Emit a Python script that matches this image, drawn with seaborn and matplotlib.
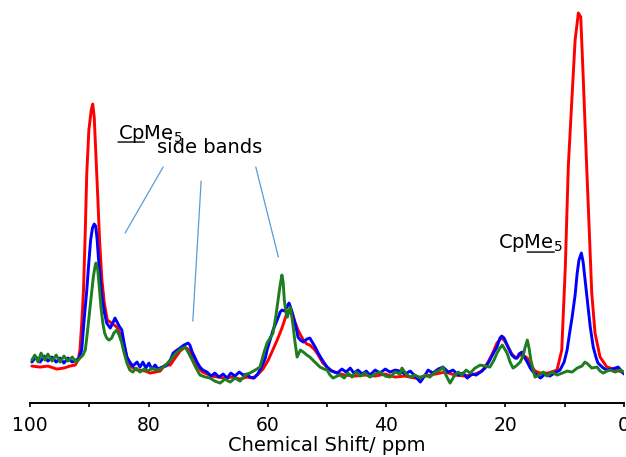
import pandas as pd
import matplotlib
matplotlib.use("Agg")
import matplotlib.pyplot as plt
import seaborn as sns

# ---------------------------------------------------------
# spectra (ppm, intensity in a.u.)
# ---------------------------------------------------------

red_ppm = [99.7, 98.3, 97.0, 95.5, 94.3, 93.3, 92.4, 91.9, 91.6, 91.3, 91.0, 90.7, 90.45, 90.1, 89.7,
           89.45, 89.2, 88.9, 88.6, 88.3, 87.9, 87.5, 87.0, 86.25, 85.4, 84.55, 83.7, 82.9, 82.0, 81.5,
           80.6, 79.8, 78.95, 78.1, 77.3, 76.4, 75.6, 74.75, 73.9, 73.2, 72.6, 71.9, 71.0, 70.2, 69.4,
           68.35, 67.2, 66.0, 64.65, 63.5, 62.5, 61.6, 60.8, 59.9, 59.3, 58.4, 57.6, 56.7, 56.2, 55.9,
           55.4, 54.9, 54.0, 53.4, 52.9, 52.2, 51.7, 51.2, 50.7, 49.5, 48.3, 47.0, 45.3, 43.6, 41.9,
           40.2, 38.55, 36.9, 35.2, 33.5, 31.8, 30.1, 28.45, 26.8, 25.1, 23.9, 22.9, 22.05, 21.4, 20.7,
           20.2, 19.5, 18.9, 18.2, 17.5, 16.8, 16.3, 15.7, 15.0, 14.1, 12.8, 11.3, 10.5, 9.9, 9.4,
           8.8, 8.25, 7.7, 7.3, 6.85, 6.3, 5.85, 5.45, 4.9, 4.05, 2.9, 1.2, 0.0]
red_int = [37, 36, 37, 34, 35, 37, 38, 43, 53, 80, 113, 173, 230, 273, 293,
           299, 286, 246, 206, 163, 123, 100, 83, 80, 76, 66, 46, 36, 33, 33,
           32, 30, 31, 32, 38, 38, 45, 52, 56, 53, 45, 37, 31, 29, 27,
           26, 25, 26, 24, 26, 25, 29, 34, 43, 51, 63, 75, 91, 94, 91,
           81, 73, 63, 59, 58, 54, 50, 45, 40, 33, 30, 28, 27, 28, 27,
           29, 26, 27, 25, 27, 29, 31, 28, 27, 29, 32, 41, 51, 60, 65,
           63, 56, 49, 45, 48, 47, 45, 38, 32, 30, 30, 33, 53, 136, 236,
           303, 363, 390, 386, 320, 236, 170, 110, 70, 46, 36, 33, 30]

blue_ppm = [99.7, 99.0, 98.3, 97.6, 97.0, 96.3, 95.6, 94.95, 94.3, 93.6, 92.9, 92.25, 91.75, 91.3, 90.9,
            90.45, 90.1, 89.8, 89.5, 89.2, 88.95, 88.7, 88.5, 88.2, 87.9, 87.5, 87.1, 86.5, 86.0, 85.7,
            85.35, 85.0, 84.55, 84.2, 83.7, 83.2, 82.7, 82.0, 81.5, 81.0, 80.5, 80.0, 79.5, 78.95, 78.45,
            77.8, 77.1, 76.4, 75.9, 75.25, 74.75, 74.1, 73.4, 73.1, 72.7, 72.2, 71.9, 71.4, 70.9, 70.2,
            69.5, 68.9, 68.2, 67.5, 66.8, 66.2, 65.5, 64.8, 64.1, 63.5, 63.0, 62.3, 61.8, 61.3, 60.9,
            60.4, 60.1, 59.6, 59.1, 58.4, 57.9, 57.6, 57.1, 56.6, 56.4, 56.1, 55.7, 55.2, 54.9, 54.5,
            54.0, 53.4, 52.9, 52.4, 52.0, 51.5, 50.8, 50.0, 49.2, 48.3, 47.5, 46.8, 46.1, 45.5, 44.8,
            44.1, 43.4, 42.8, 41.9, 41.1, 40.2, 39.4, 38.55, 37.7, 36.9, 36.0, 35.2, 34.3, 33.5, 33.0,
            32.2, 31.3, 30.5, 29.6, 28.8, 27.9, 27.1, 26.4, 25.6, 24.9, 24.2, 23.4, 22.6, 21.9, 21.4,
            20.9, 20.6, 20.2, 19.9, 19.4, 18.9, 18.35, 18.0, 17.7, 17.2, 16.8, 16.3, 15.8, 15.3, 14.6,
            14.1, 13.3, 12.5, 11.45, 10.8, 10.1, 9.6, 9.1, 8.75, 8.25, 7.9, 7.6, 7.2, 6.9, 6.7,
            6.4, 6.2, 5.7, 5.2, 4.7, 4.4, 3.5, 2.9, 2.0, 1.0, 0.3, 0.0]
blue_int = [41, 46, 41, 47, 42, 46, 41, 45, 40, 45, 41, 43, 45, 53, 83,
            113, 141, 163, 175, 179, 177, 163, 146, 125, 106, 91, 80, 75, 81, 85,
            81, 77, 73, 61, 46, 41, 37, 41, 36, 41, 35, 40, 34, 38, 34,
            36, 37, 43, 50, 53, 55, 58, 60, 58, 51, 45, 41, 36, 33, 31,
            27, 30, 26, 29, 25, 30, 27, 31, 28, 29, 26, 25, 28, 33, 38,
            45, 53, 63, 73, 83, 91, 93, 92, 98, 100, 95, 86, 75, 66, 63,
            61, 64, 65, 60, 56, 50, 43, 36, 32, 30, 34, 31, 35, 30, 33,
            29, 32, 28, 33, 30, 34, 31, 33, 32, 29, 32, 27, 21, 28, 33,
            30, 34, 36, 31, 33, 28, 30, 25, 29, 28, 31, 35, 43, 51, 56,
            65, 67, 65, 61, 54, 48, 45, 45, 49, 51, 46, 41, 35, 31, 28,
            25, 29, 27, 31, 33, 41, 53, 73, 86, 108, 130, 143, 150, 141, 130,
            113, 103, 76, 56, 45, 40, 35, 33, 34, 36, 31, 29]

green_ppm = [99.7, 99.2, 98.65, 98.15, 97.5, 97.0, 96.3, 95.6, 94.95, 94.3, 93.6, 92.9, 92.25, 91.6, 91.1,
             90.7, 90.4, 89.9, 89.35, 89.05, 88.9, 88.6, 88.3, 88.05, 87.75, 87.45, 87.1, 86.7, 86.25, 85.9,
             85.4, 85.0, 84.55, 84.2, 83.7, 83.2, 82.7, 82.15, 81.5, 80.8, 80.1, 79.5, 78.8, 78.1, 77.3,
             76.4, 75.75, 75.25, 74.6, 73.9, 73.4, 72.7, 72.05, 71.4, 70.5, 69.7, 68.9, 68.0, 67.2, 66.3,
             65.5, 64.65, 63.8, 63.0, 62.1, 61.3, 60.6, 60.1, 59.6, 59.1, 58.6, 58.25, 57.9, 57.6, 57.4,
             57.2, 56.9, 56.7, 56.2, 55.9, 55.7, 55.4, 55.05, 54.5, 54.0, 53.4, 52.9, 52.4, 51.7, 51.2,
             50.5, 50.0, 49.5, 49.0, 48.3, 47.8, 47.1, 46.5, 45.8, 45.1, 44.4, 43.6, 42.8, 41.9, 41.1,
             40.2, 39.4, 38.55, 37.7, 37.4, 36.7, 36.0, 35.2, 34.3, 33.5, 32.7, 31.8, 31.0, 30.5, 30.0,
             29.3, 28.6, 27.9, 27.3, 26.6, 25.9, 25.1, 24.2, 23.4, 22.6, 21.9, 21.4, 20.9, 20.5, 20.0,
             19.7, 19.2, 18.7, 18.2, 17.5, 17.0, 16.7, 16.3, 16.0, 15.7, 15.3, 15.0, 14.3, 13.6, 13.0,
             12.1, 11.3, 10.4, 9.6, 8.75, 7.9, 7.1, 6.6, 6.1, 5.45, 4.55, 4.05, 3.5, 2.9, 2.35,
             1.5, 0.7, 0.0]
green_int = [43, 48, 41, 50, 43, 49, 42, 48, 41, 47, 42, 46, 41, 45, 48,
             53, 68, 96, 126, 137, 140, 133, 113, 95, 80, 70, 65, 63, 65, 70,
             73, 68, 60, 51, 40, 33, 31, 35, 31, 34, 32, 35, 33, 34, 37,
             43, 48, 51, 54, 56, 51, 43, 35, 28, 26, 25, 22, 20, 24, 21,
             25, 22, 28, 30, 33, 36, 51, 60, 65, 70, 88, 103, 118, 128, 121,
             103, 90, 86, 96, 85, 76, 61, 46, 53, 51, 48, 46, 43, 39, 36,
             34, 33, 28, 25, 27, 28, 25, 30, 26, 31, 27, 30, 26, 29, 31,
             27, 26, 31, 29, 35, 29, 26, 28, 25, 28, 26, 31, 33, 36, 28,
             20, 27, 31, 28, 33, 30, 35, 38, 37, 36, 43, 50, 55, 58, 53,
             50, 41, 35, 37, 41, 47, 55, 63, 55, 43, 33, 26, 28, 31, 27,
             31, 28, 30, 32, 31, 35, 37, 41, 39, 35, 36, 32, 30, 32, 33,
             31, 33, 31]

samples = ["red", "blue", "green"]
line_colors = {"red": "#ff0000", "blue": "#0000ff", "green": "#1e7d1e"}

df = pd.concat([
    pd.DataFrame({"ppm": red_ppm, "intensity": red_int, "sample": "red"}),
    pd.DataFrame({"ppm": blue_ppm, "intensity": blue_int, "sample": "blue"}),
    pd.DataFrame({"ppm": green_ppm, "intensity": green_int, "sample": "green"}),
], ignore_index=True)

major_ticks = [100, 80, 60, 40, 20, 0]
minor_ticks = [90, 70, 50, 30, 10]

# ---------------------------------------------------------
# plot
# ---------------------------------------------------------

sns.set_style("ticks")
plt.rcParams["font.family"] = ["DejaVu Sans"]
plt.rcParams["text.color"] = "black"
plt.rcParams["axes.labelcolor"] = "black"
plt.rcParams["xtick.color"] = "black"
plt.rcParams["axes.edgecolor"] = "black"

fig = plt.figure(figsize=(6.26, 4.57), dpi=100)
ax = fig.add_axes([0.048, 0.118, 0.949, 0.882])

sns.lineplot(data=df, x="ppm", y="intensity", hue="sample", hue_order=samples,
             palette=line_colors, sort=False, estimator=None, legend=False,
             linewidth=2.1, ax=ax)

ax.set_xlim(100, 0)
ax.set_ylim(0, 403)
ax.set_xticks(major_ticks)
ax.set_xticks(minor_ticks, minor=True)
ax.set_yticks([])
ax.tick_params(axis="x", which="both", direction="out", length=3, width=1.2,
               color="black", labelcolor="black", labelsize=13.5, pad=6)
ax.set_xlabel("Chemical Shift/ ppm", fontsize=14, labelpad=1, color="black")
ax.set_ylabel("")
sns.despine(ax=ax, left=True)
ax.spines["bottom"].set_linewidth(1.4)
ax.spines["bottom"].set_color("black")

# annotations
t1 = ax.text(85.2, 264, "CpMe$_5$", fontsize=14, ha="left", va="baseline", color="black")
ax.annotate("", xy=(0.0, 261), xycoords=(t1, "data"), xytext=(0.41, 261),
            textcoords=(t1, "data"),
            arrowprops=dict(arrowstyle="-", lw=1.0, color="black", shrinkA=0, shrinkB=0))
ax.text(78.6, 250, "side bands", fontsize=14, ha="left", va="baseline", color="black")

band_lines = [((77.6, 236), (84.0, 170)), ((71.2, 222), (72.6, 82)), ((62.0, 236), (58.2, 146))]
for (x0, y0), (x1, y1) in band_lines:
    ax.plot([x0, x1], [y0, y1], color="#5b9bd5", lw=0.9)

t2 = ax.text(21.2, 155, "CpMe$_5$", fontsize=14, ha="left", va="baseline", color="black")
ax.annotate("", xy=(0.45, 151), xycoords=(t2, "data"), xytext=(0.87, 151),
            textcoords=(t2, "data"),
            arrowprops=dict(arrowstyle="-", lw=1.0, color="black", shrinkA=0, shrinkB=0))

fig.savefig("out.png", dpi=100)
